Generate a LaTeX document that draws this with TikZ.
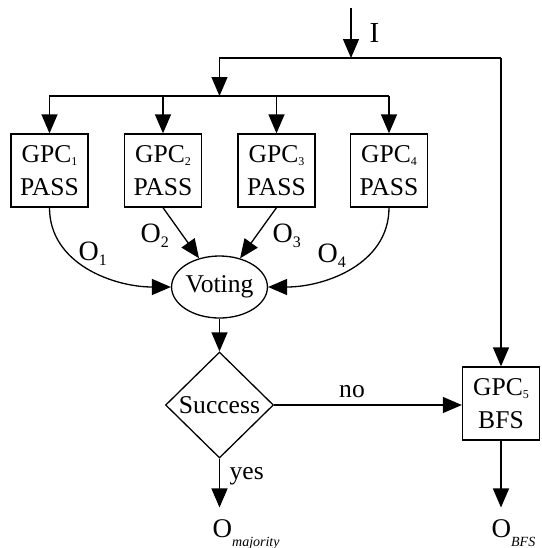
\documentclass[tikz,border=0pt]{standalone}
\usepackage{fontspec}
\setmainfont{Liberation Serif}
\usetikzlibrary{shapes.geometric,arrows.meta}
\newcommand{\gsub}[1]{\raisebox{-1.5pt}{\fontsize{6}{7}\selectfont #1}}
\newcommand{\osub}[1]{\raisebox{-2.5pt}{\fontsize{8}{9}\selectfont #1}}
\newcommand{\outsub}[1]{\raisebox{-4.5pt}{\fontsize{7}{8}\selectfont\itshape #1}}

\begin{document}
\begin{tikzpicture}[x=0.5pt,y=-0.5pt,line width=0.65pt,
  font=\fontsize{12.8}{16.5}\selectfont,
  arr/.style={-{Triangle[length=9.5pt,width=8pt]}},
  gpc/.style={draw,align=center,minimum width=38.5pt,minimum height=36.5pt,inner sep=1pt},
  lbl/.style={inner sep=0pt,anchor=base west},
  olbl/.style={lbl,font=\fontsize{14}{16}\selectfont},
  outlbl/.style={lbl,font=\fontsize{13.5}{15}\selectfont}]
\useasboundingbox (0,0) rectangle (542,548);

\node[gpc] (gpc1) at (49.5,170.5) {GPC\gsub{1}\\PASS};
\node[gpc] (gpc2) at (163,170.5) {GPC\gsub{2}\\PASS};
\node[gpc] (gpc3) at (276.5,170.5) {GPC\gsub{3}\\PASS};
\node[gpc] (gpc4) at (389,170.5) {GPC\gsub{4}\\PASS};
\node[gpc] (gpc5) at (501,403.5) {GPC\gsub{5}\\BFS};

\node[draw,ellipse,minimum width=46.5pt,minimum height=31pt,inner sep=0pt] (vote) at (219.5,287) {Voting};
\node[draw,diamond,minimum width=54pt,minimum height=53pt,inner sep=0pt] (succ) at (219.5,405) {Success};

%% input and split
\coordinate (in) at (351,8);
\coordinate (jtop) at (351,58);
\coordinate (jl) at (219.5,58);
\coordinate (jr) at (501,58);
\coordinate (jmid) at (219.5,96);

\node[lbl,font=\fontsize{14.5}{16}\selectfont] (inlbl) at (369,42) {I};
\draw[arr] (in) -- (jtop);
\draw (jl) -- (jr);
\draw[arr] (jl) -- (jmid);
\draw (gpc1 |- jmid) -- (gpc4 |- jmid);
\foreach \n in {1,...,4}
  \draw[arr] (gpc\n |- jmid) -- (gpc\n);
\draw[arr] (jr) -- (gpc5);

%% outputs to voting
\draw[arr] (gpc1.south) to[out=-90,in=180] (vote.west);
\draw[arr] (gpc2.south) -- (vote);
\draw[arr] (gpc3.south) -- (vote);
\draw[arr] (gpc4.south) to[out=-90,in=0] (vote.east);
\node[olbl] (o1) at (78,260) {O\osub{1}};
\node[olbl] (o2) at (140,242) {O\osub{2}};
\node[olbl] (o3) at (272,242) {O\osub{3}};
\node[olbl] (o4) at (317,262) {O\osub{4}};

\draw[arr] (vote) -- (succ);

%% decision
\node[outlbl] (omaj) at (212,537) {O\outsub{majority}};
\node[outlbl] (obfs) at (491,537) {O\outsub{BFS}};
\draw[arr] (succ.east) -- (succ.east -| gpc5.west);
\node[lbl,anchor=base] (no) at (352,397) {no};
\draw[arr,shorten >=5.5pt] (succ.south) -- (succ.south |- omaj.north);
\node[lbl] (yes) at (229,479) {yes};
\draw[arr,shorten >=5.5pt] (gpc5.south) -- (gpc5.south |- obfs.north);

\end{tikzpicture}
\end{document}
